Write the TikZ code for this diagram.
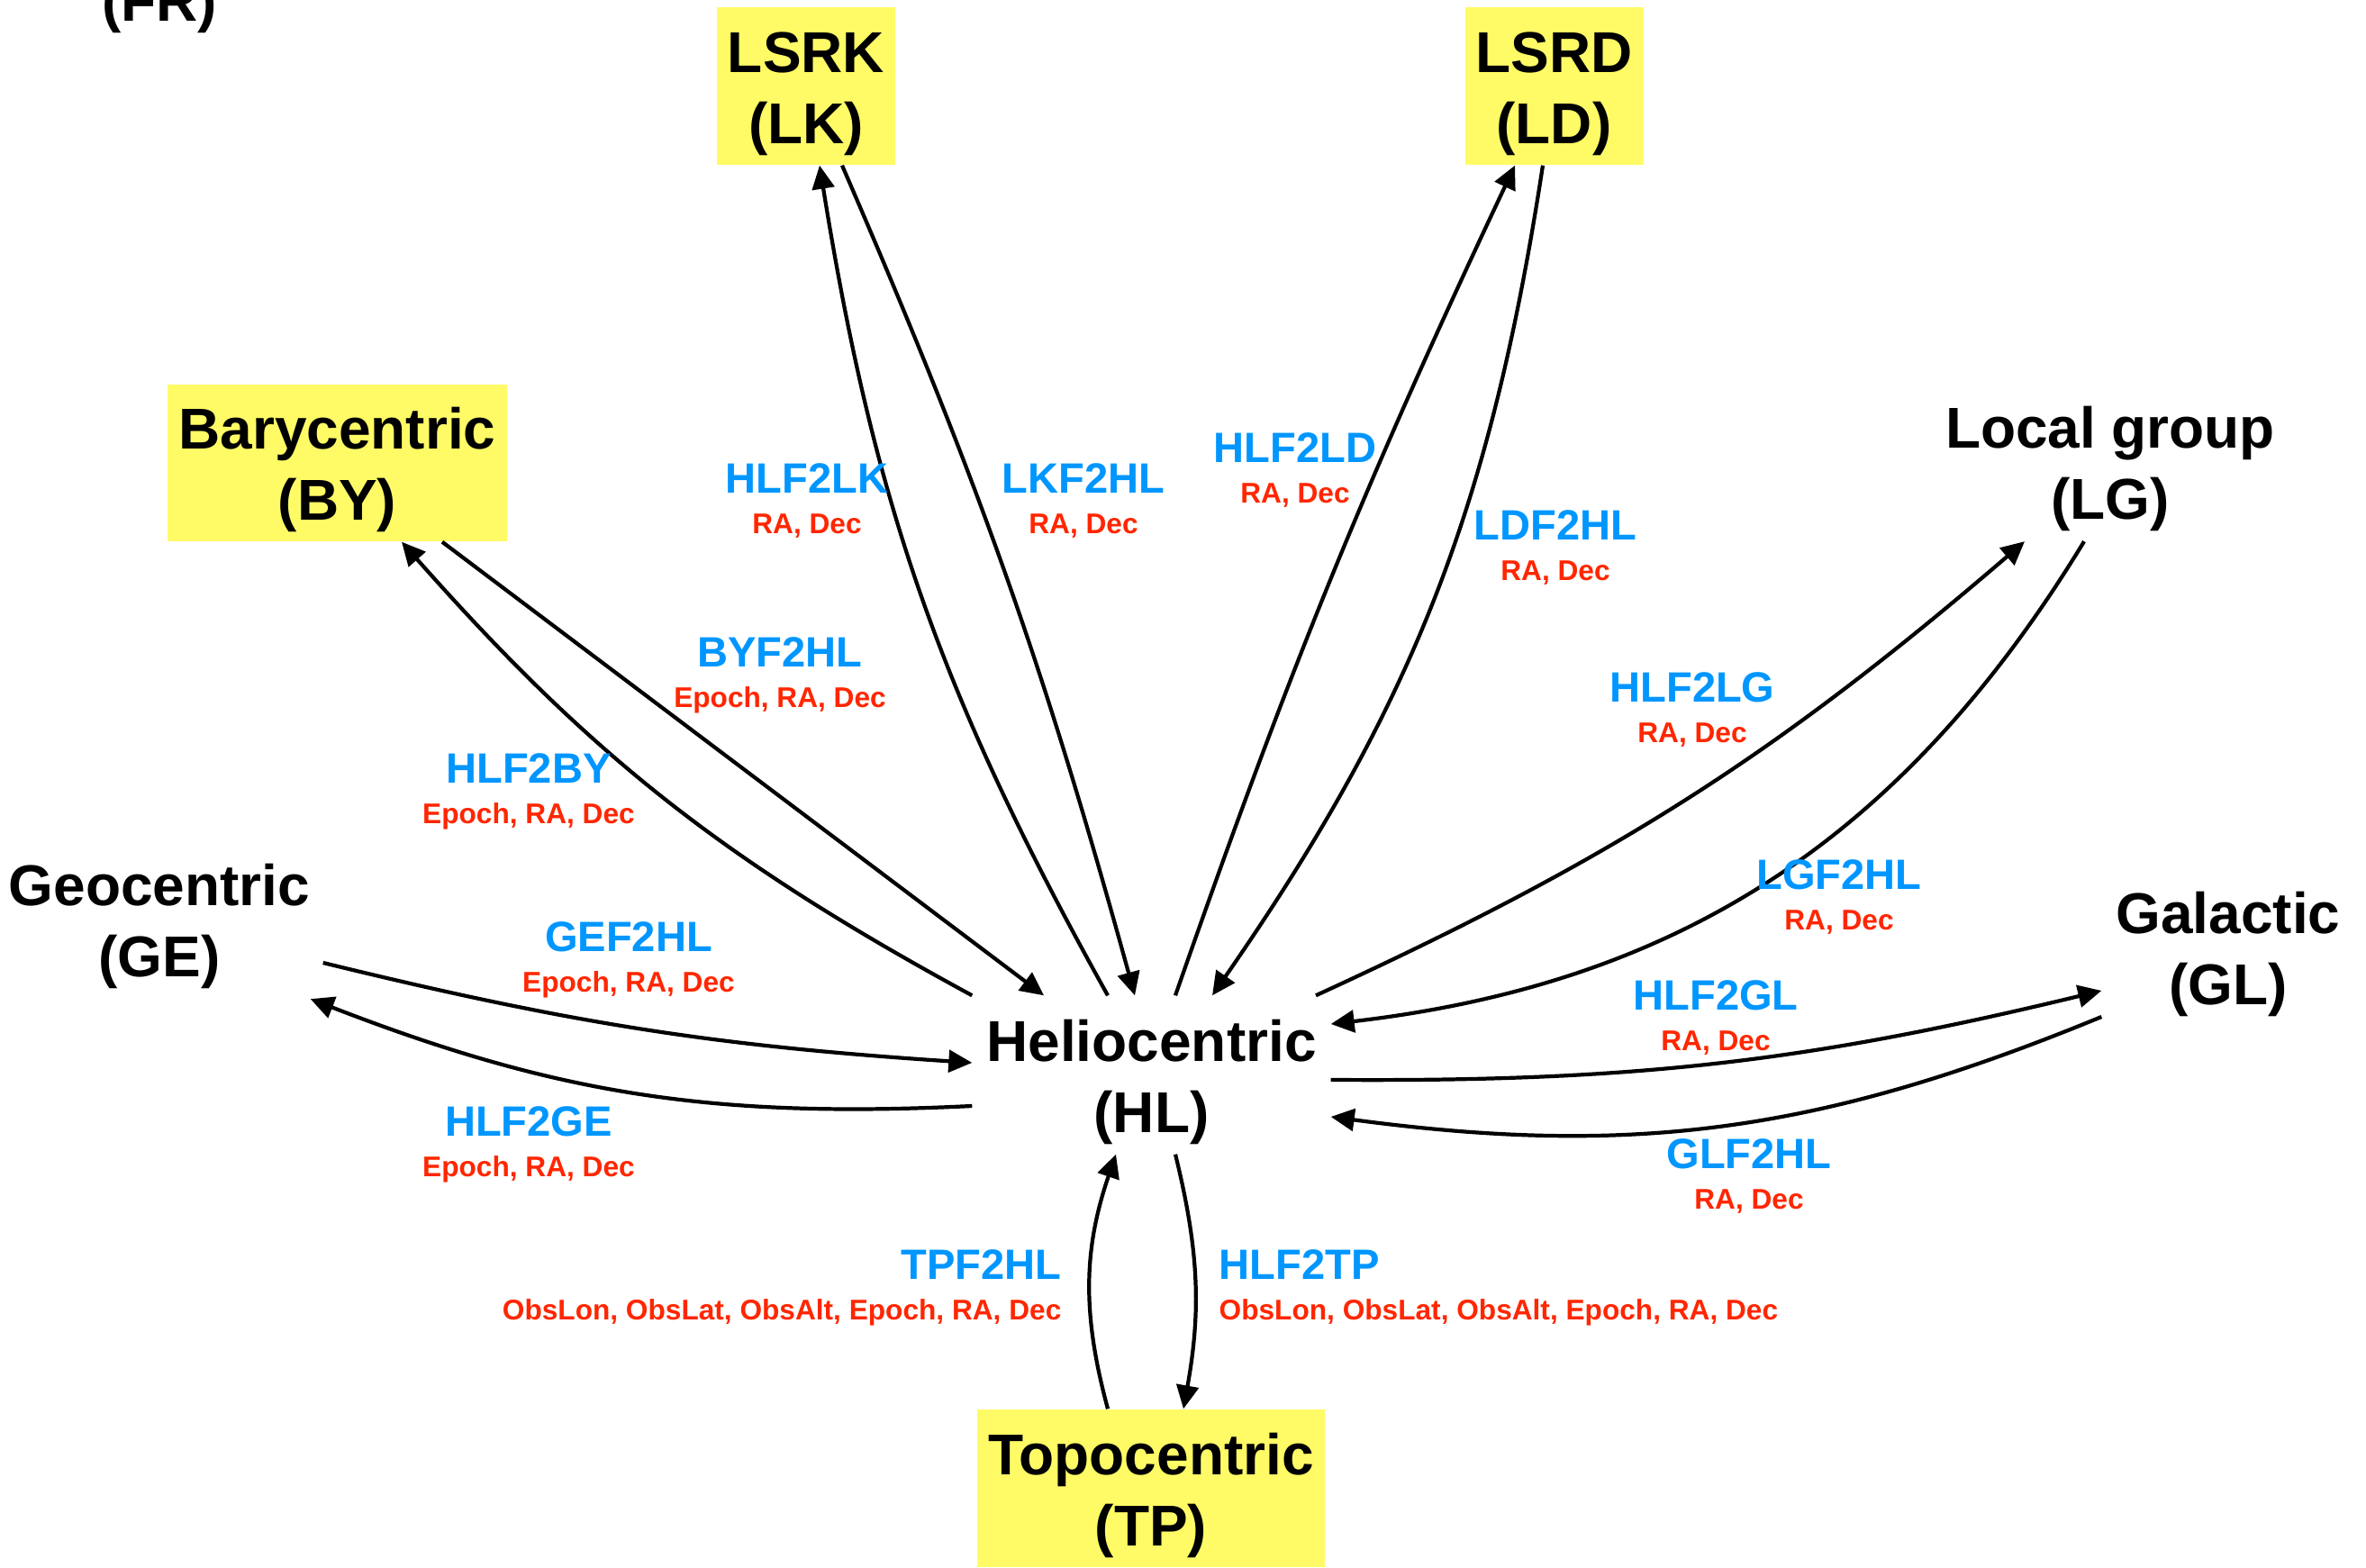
\documentclass[tikz,border=0pt]{standalone}
\usepackage{fontspec}
\setmainfont{Liberation Sans}
\usetikzlibrary{arrows.meta}

\definecolor{clrfunc}{RGB}{0,150,255}
\definecolor{clrargs}{RGB}{255,38,0}
\definecolor{clrbox}{RGB}{255,251,102}

\begin{document}
\begin{tikzpicture}[
	frame/.style={align=center, inner sep=0pt, minimum height=1.75cm,
		font=\fontsize{18.2pt}{22.5pt}\selectfont\bfseries},
	boxed/.style={frame, fill=clrbox},
	fname/.style={inner sep=0pt, text height=9.6pt, text depth=0pt, text=clrfunc,
		font=\fontsize{13.4pt}{16pt}\selectfont\bfseries},
	fargs/.style={inner sep=0pt, text height=6.45pt, text depth=0pt, text=clrargs,
		font=\fontsize{9pt}{10pt}\selectfont\bfseries},
	conn/.style={line width=1.2pt, -{Triangle[length=7.4pt,width=7pt]}}
]

\def\wid{26.27}
\def\hei{17.41}
\newcommand*{\lift}{\rule{0pt}{17.5pt}}

% \mylabel{name}{anchor}{x,y}{function}{arguments}
\newcommand*{\mylabel}[5]{
	\node [fname, anchor=#2] (#1) at (#3) {#4};
	\node [fargs, anchor=#2] (#1args) at ([yshift=-5mm]#1.#2) {#5};
}

	\useasboundingbox (0,0) rectangle (\wid,\hei);
	\clip (0,0) rectangle (\wid,\hei);

	\node [font=\fontsize{18.2pt}{22.5pt}\selectfont\bfseries, inner sep=0pt] (fr) at (1.77,17.34) {(FR)};

	\node [boxed, minimum width=1.98cm] (lk) at (8.95,16.455) {\lift LSRK\\(LK)};
	\node [boxed, minimum width=1.98cm] (ld) at (17.255,16.455) {\lift LSRD\\(LD)};
	\node [boxed, minimum width=3.77cm, minimum height=1.74cm] (by) at (3.745,12.27) {\lift Barycentric\\(BY)};
	\node [frame, minimum width=3.92cm] (lg) at (23.43,12.28) {\lift Local group\\(LG)};
	\node [frame, minimum width=3.62cm] (ge) at (1.77,7.20) {\lift Geocentric\\(GE)};
	\node [frame, minimum width=2.80cm] (gl) at (24.74,6.89) {\lift Galactic\\(GL)};
	\node [frame, minimum width=3.97cm] (hl) at (12.785,5.475) {\lift Heliocentric\\(HL)};
	\node [boxed, minimum width=3.86cm] (tp) at (12.78,0.885) {\lift Topocentric\\(TP)};

	\draw [conn] ([xshift=1.165cm]by.south) -- ([xshift=-1.195cm]hl.north);
	\draw [conn] (hl.north west) to[bend left=10] ([xshift=0.715cm]by.south);

	\draw [conn] ([xshift=-0.485cm]hl.north) to[bend left=10] ([xshift=0.15cm]lk.south);
	\draw [conn] ([xshift=0.40cm]lk.south) to[bend left=4] ([xshift=-0.185cm]hl.north);

	\draw [conn] ([xshift=0.265cm]hl.north) to[bend left=3] ([xshift=-0.435cm]ld.south);
	\draw [conn] ([xshift=-0.125cm]ld.south) to[bend left=13] ([xshift=0.675cm]hl.north);

	\draw [conn] ([xshift=1.825cm]hl.north) to[bend right=8] ([xshift=-0.95cm]lg.south);
	\draw [conn] ([xshift=-0.29cm]lg.south) to[bend left=26] ([yshift=0.565cm]hl.east);

	\draw [conn] ([yshift=-0.055cm]hl.east) to[bend right=7] ([yshift=-0.48cm]gl.west);
	\draw [conn] ([yshift=-0.77cm]gl.west) to[bend left=15] ([yshift=-0.465cm]hl.east);

	\draw [conn] ([yshift=-0.48cm]ge.east) to[bend right=5] ([yshift=0.135cm]hl.west);
	\draw [conn] ([yshift=-0.345cm]hl.west) to[bend left=12] ([xshift=-0.14cm]ge.south east);

	\draw [conn] ([xshift=-0.48cm]tp.north) to[bend left=17] ([xshift=-0.395cm]hl.south);
	\draw [conn] ([xshift=0.265cm]hl.south) to[bend left=12] ([xshift=0.36cm]tp.north);

	\mylabel{hlflk}{center}{8.96,12.10}{HLF2LK}{RA, Dec}
	\mylabel{lkfhl}{center}{12.03,12.10}{LKF2HL}{RA, Dec}
	\mylabel{hlfld}{center}{14.38,12.44}{HLF2LD}{RA, Dec}
	\mylabel{ldfhl}{center}{17.27,11.58}{LDF2HL}{RA, Dec}
	\mylabel{byfhl}{center}{8.66,10.17}{BYF2HL}{Epoch, RA, Dec}
	\mylabel{hlfby}{center}{5.87,8.88}{HLF2BY}{Epoch, RA, Dec}
	\mylabel{hlflg}{center}{18.79,9.78}{HLF2LG}{RA, Dec}
	\mylabel{lgfhl}{center}{20.42,7.70}{LGF2HL}{RA, Dec}
	\mylabel{hlfgl}{center}{19.05,6.36}{HLF2GL}{RA, Dec}
	\mylabel{gefhl}{center}{6.98,7.01}{GEF2HL}{Epoch, RA, Dec}
	\mylabel{hlfge}{center}{5.87,4.96}{HLF2GE}{Epoch, RA, Dec}
	\mylabel{glfhl}{center}{19.42,4.60}{GLF2HL}{RA, Dec}
	\mylabel{tpfhl}{east}{11.79,3.37}{TPF2HL}{ObsLon, ObsLat, ObsAlt, Epoch, RA, Dec}
	\mylabel{hlftp}{west}{13.53,3.37}{HLF2TP}{ObsLon, ObsLat, ObsAlt, Epoch, RA, Dec}

\end{tikzpicture}
\end{document}
